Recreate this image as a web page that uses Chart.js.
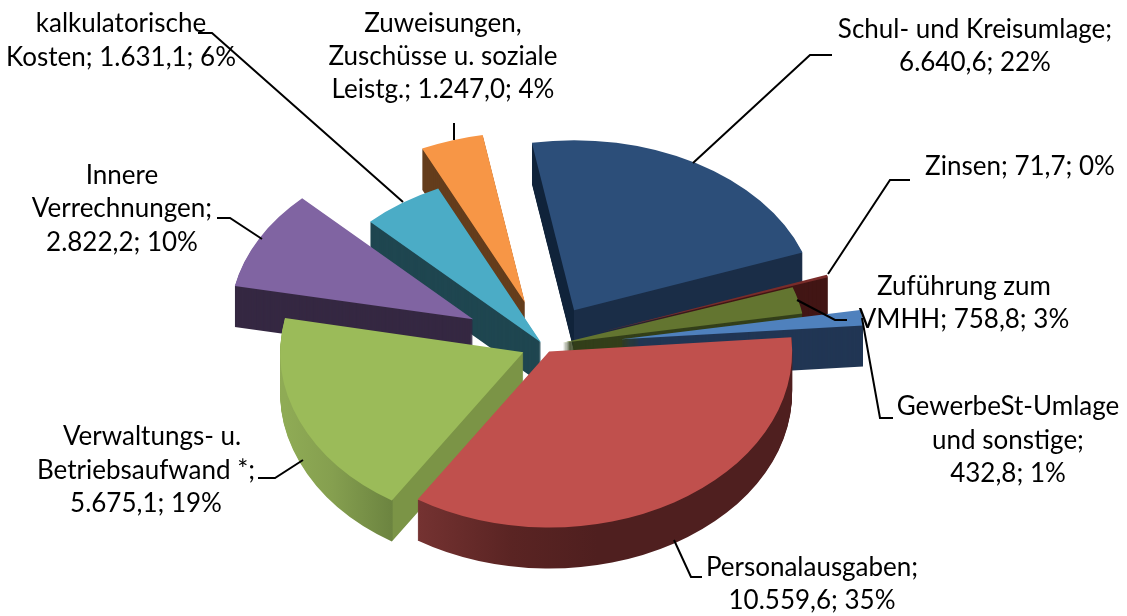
<!DOCTYPE html>
<html lang="de">
<head>
<meta charset="utf-8">
<style>html,body{margin:0;padding:0;background:#fff}canvas{display:block}</style>
<script src="https://cdn.jsdelivr.net/npm/chart.js@4/dist/chart.umd.min.js"></script>
</head>
<body>
<canvas id="c" width="1127" height="616"></canvas>
<script>
const categories = ["Schul- und Kreisumlage","Zinsen","Zuführung zum VMHH","GewerbeSt-Umlage und sonstige","Personalausgaben","Verwaltungs- u. Betriebsaufwand *","Innere Verrechnungen","kalkulatorische Kosten","Zuweisungen, Zuschüsse u. soziale Leistg."];
const values = [6640.6,71.7,758.8,432.8,10559.6,5675.1,2822.2,1631.1,1247.0];
const topColors = ["#2c4e79","#7a2c2a","#637530","#4f81bd","#c0504d","#9bbb59","#8064a2","#4bacc6","#f79646"];
const sideColors = ["#1a2d47","#421615","#333f1a","#213654","#4f1f1f","#7b9446","#352842","#1f4650","#643d1c"];
const explode = [59,57,19,77,9,23,81,6,65];
const sliceTilt = [0.7,0.7,0.7,0.7,0.725,0.725,0.7,0.7,0.7];
const paintOrder = [0,1,2,3,8,7,6,5,4];

const labelLines = [
  [["Schul- und Kreisumlage;",975,30],["6.640,6; 22%",975,63]],
  [["Zinsen; 71,7; 0%",1020,167]],
  [["Zuführung zum",964,287],["VMHH; 758,8; 3%",964,320]],
  [["GewerbeSt-Umlage",1008,407],["und sonstige;",1008,441],["432,8; 1%",1008,474]],
  [["Personalausgaben;",812,568],["10.559,6; 35%",812,601]],
  [["Verwaltungs- u.",152,437],["Betriebsaufwand *;",146,471],["5.675,1; 19%",146,504]],
  [["Innere",122,176],["Verrechnungen;",122,209],["2.822,2; 10%",122,243]],
  [["kalkulatorische",121,24],["Kosten; 1.631,1; 6%",121,58]],
  [["Zuweisungen,",443,24],["Zuschüsse u. soziale",443,57],["Leistg.; 1.247,0; 4%",443,90]]
];
const leaders = [
  [[832,55],[810,55],[693,163]],
  [[910,180],[890,180],[828,274]],
  [[847,320],[835,320],[797,300]],
  [[862,318],[880,418],[893,418]],
  [[674,540],[691,577],[702,577]],
  [[258,478],[275,478],[303,460]],
  [[217,218],[230,218],[262,239]],
  [[198,33],[212,33],[403,202]],
  [[454,123],[454,140]]
];

const tilt = 0.7, depth = 41;

function sideFill(ctx, i, ex) {
  const make = (x0, x1, stops) => {
    const g = ctx.createLinearGradient(x0 - ex, 0, x1 - ex, 0);
    stops.forEach(s => g.addColorStop(s[0], s[1]));
    return g;
  };
  if (i === 0) return make(530, 800, [[0,"#10233a"],[0.163,"#10233a"],[0.164,sideColors[0]],[1,sideColors[0]]]);
  if (i === 4) return make(419, 790, [[0,"#743231"],[0.25,"#5a2423"],[0.48,sideColors[4]],[1,sideColors[4]]]);
  if (i === 5) return make(285, 523, [[0,"#8fab55"],[0.2,"#859f4f"],[0.45,"#6c8440"],[0.455,sideColors[5]],[1,sideColors[5]]]);
  return sideColors[i];
}

const pie3d = {
  id: "pie3d",
  beforeDatasetsDraw(chart) {
    const ctx = chart.ctx;
    const arcs = chart.getDatasetMeta(0).data;
    const paint = (arc, fill, ex, ey, k) => {
      ctx.save();
      ctx.translate(arc.x + ex, arc.y + ey);
      ctx.scale(1, k);
      ctx.translate(-arc.x, -arc.y);
      const o = arc.options;
      arc.options = Object.assign({}, o, {backgroundColor: fill, borderWidth: 0});
      arc.draw(ctx);
      arc.options = o;
      ctx.restore();
    };
    paintOrder.forEach(i => {
      const arc = arcs[i];
      const mid = (arc.startAngle + arc.endAngle) / 2;
      const ex = Math.cos(mid) * explode[i];
      const ey = Math.sin(mid) * explode[i] * tilt;
      const side = sideFill(ctx, i, ex);
      for (let d = depth; d >= 1; d--) paint(arc, side, ex, ey + d, sliceTilt[i]);
      paint(arc, topColors[i], ex, ey, sliceTilt[i]);
    });
    return false;
  },
  afterDraw(chart) {
    const ctx = chart.ctx;
    ctx.save();
    ctx.strokeStyle = "#000";
    ctx.lineWidth = 2;
    leaders.forEach(l => {
      ctx.beginPath();
      l.forEach((p, j) => j ? ctx.lineTo(p[0], p[1]) : ctx.moveTo(p[0], p[1]));
      ctx.stroke();
    });
    ctx.fillStyle = "#000";
    ctx.font = "26px Lato";
    ctx.textAlign = "center";
    ctx.textBaseline = "middle";
    labelLines.forEach(g => g.forEach(t => ctx.fillText(t[0], t[1], t[2])));
    ctx.restore();
  }
};

new Chart(document.getElementById("c"), {
  type: "pie",
  data: { labels: categories, datasets: [{ data: values, backgroundColor: topColors, borderWidth: 0 }] },
  options: {
    responsive: false,
    animation: false,
    rotation: -10,
    radius: 243,
    layout: { padding: { left: 0, right: 38, top: 76, bottom: 0 } },
    plugins: { legend: { display: false }, tooltip: { enabled: false } }
  },
  plugins: [pie3d]
});
</script>
</body>
</html>
